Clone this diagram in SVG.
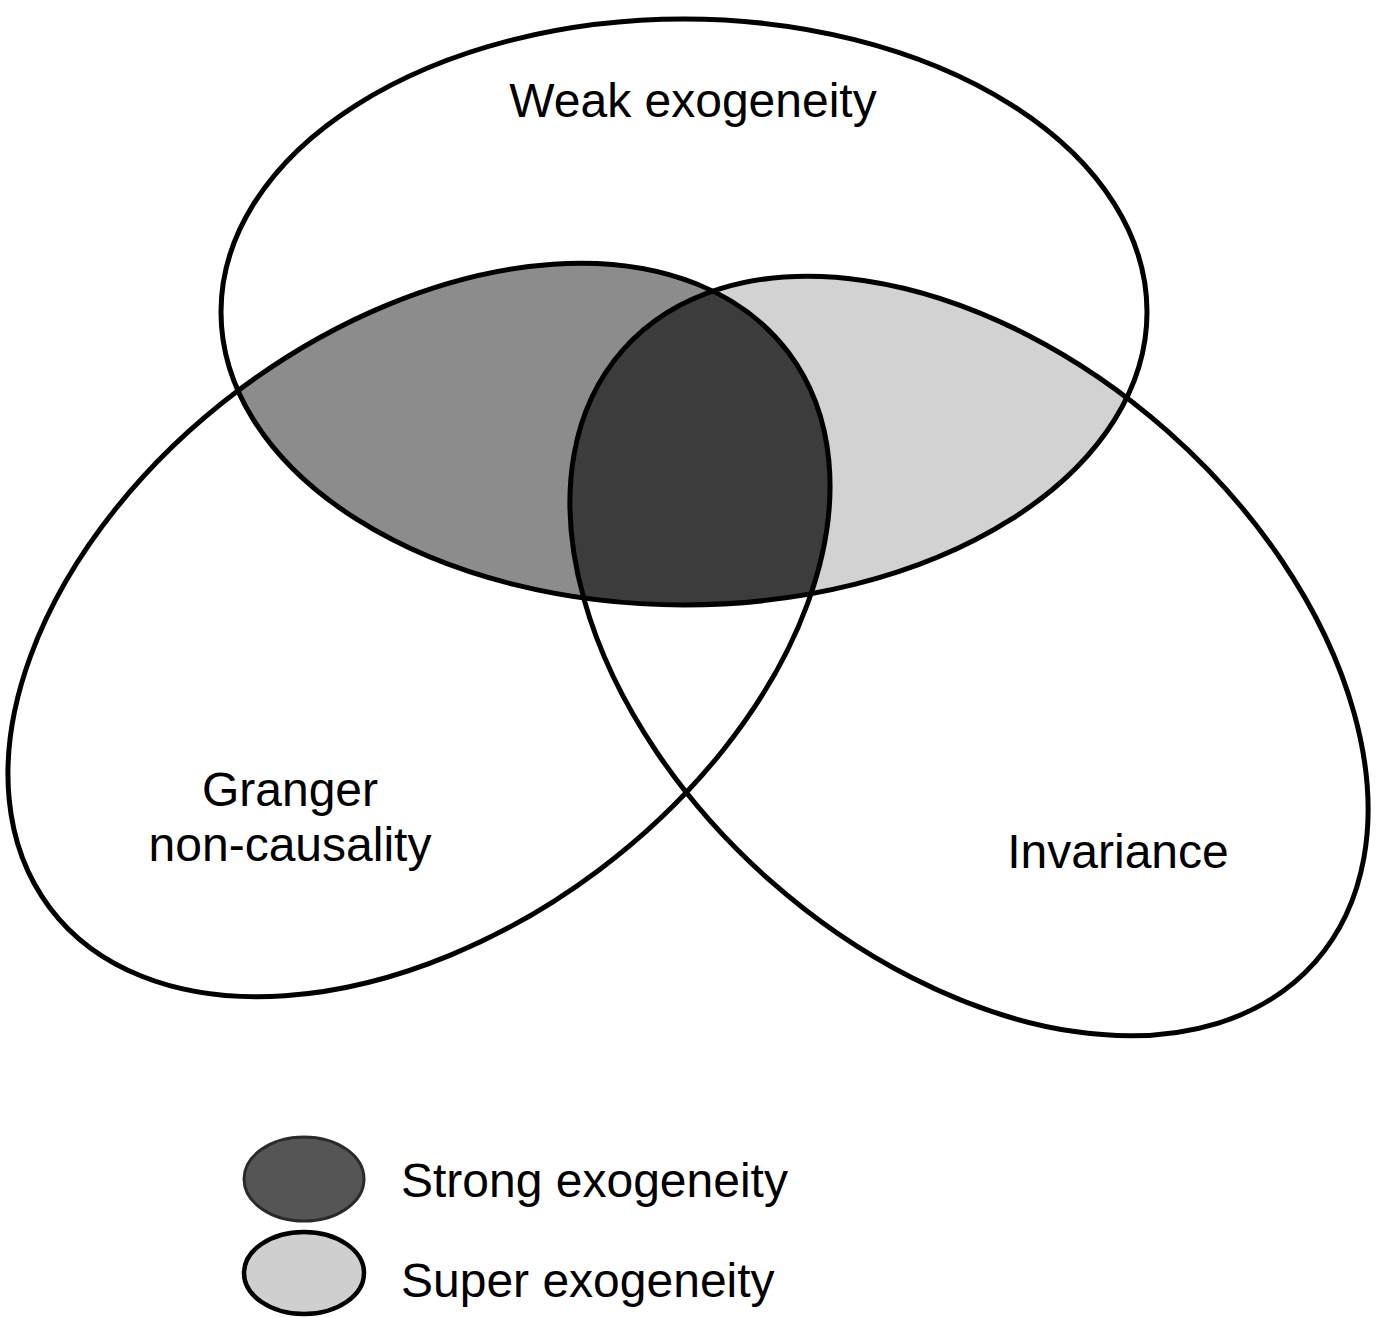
<svg xmlns="http://www.w3.org/2000/svg" width="1383" height="1317" viewBox="0 0 1383 1317">
  <style>
    .outline { fill: none; stroke: #000; stroke-width: 5; }
    .label { font-family: "Liberation Sans", Arial, sans-serif; font-size: 48px; fill: #000; }
    .mid { fill: #8c8c8c; }
    .light { fill: #d2d2d2; }
    .dark { fill: #3c3c3c; }
  </style>
  <defs>
    <ellipse id="eTop" cx="684" cy="312" rx="463" ry="293"/>
    <ellipse id="eLeft" cx="419" cy="630" rx="462" ry="300" transform="rotate(-36.9 419 630)"/>
    <ellipse id="eRight" cx="969" cy="656" rx="462" ry="300" transform="rotate(41.5 969 656)"/>
    <clipPath id="clipLeft"><use href="#eLeft"/></clipPath>
    <clipPath id="clipRight"><use href="#eRight"/></clipPath>
  </defs>
  <rect width="1383" height="1317" fill="#fff"/>

  <g id="shading">
    <use href="#eTop" class="mid" clip-path="url(#clipLeft)"/>
    <use href="#eTop" class="light" clip-path="url(#clipRight)"/>
    <g clip-path="url(#clipRight)">
      <use href="#eTop" class="dark" clip-path="url(#clipLeft)"/>
    </g>
  </g>

  <g id="weak-exogeneity">
    <use href="#eTop" class="outline"/>
    <text class="label" x="693" y="117" text-anchor="middle">Weak exogeneity</text>
  </g>
  <g id="granger-non-causality">
    <use href="#eLeft" class="outline"/>
    <text class="label" x="290" y="806" text-anchor="middle">Granger</text>
    <text class="label" x="290" y="861" text-anchor="middle">non-causality</text>
  </g>
  <g id="invariance">
    <use href="#eRight" class="outline"/>
    <text class="label" x="1118" y="868" text-anchor="middle">Invariance</text>
  </g>

  <g id="legend-strong">
    <ellipse cx="304" cy="1179" rx="60" ry="42" fill="#555" stroke="#2a2a2a" stroke-width="3"/>
    <text class="label" x="401" y="1197">Strong exogeneity</text>
  </g>
  <g id="legend-super">
    <ellipse cx="304" cy="1273" rx="60" ry="41" fill="#cfcfcf" stroke="#000" stroke-width="4.5"/>
    <text class="label" x="401" y="1297">Super exogeneity</text>
  </g>
</svg>
